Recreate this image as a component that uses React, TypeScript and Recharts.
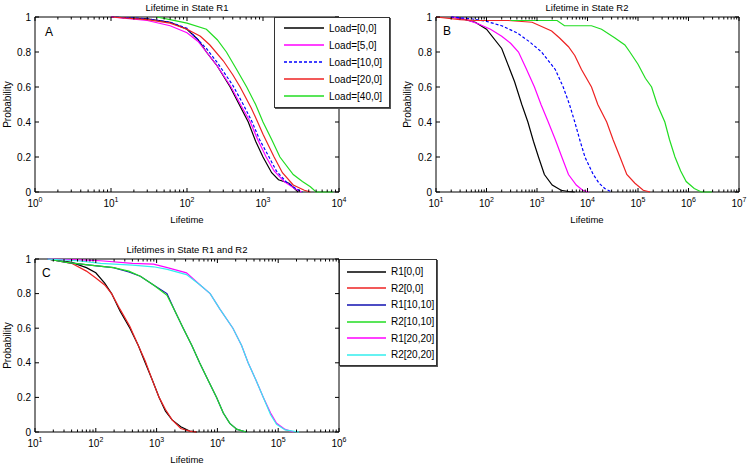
import React from 'react';
import { LineChart, Line, XAxis, YAxis, ReferenceArea } from 'recharts';

type Pt = [number, number];

// [lifetime, probability]

// Panel A – lifetime in state R1
const a00: Pt[] = [[10, 1], [30, 0.99], [60, 0.97], [100, 0.93], [140, 0.87], [180, 0.8], [250, 0.72], [370, 0.6], [500, 0.49], [640, 0.4], [800, 0.29], [1000, 0.2], [1300, 0.11], [1600, 0.07], [2200, 0.05], [2900, 0]];
const a50: Pt[] = [[10, 1], [30, 0.98], [60, 0.95], [100, 0.91], [140, 0.86], [180, 0.8], [250, 0.72], [380, 0.6], [520, 0.49], [680, 0.4], [850, 0.3], [1100, 0.2], [1400, 0.12], [1900, 0.06], [2600, 0.02], [3200, 0]];
const a100: Pt[] = [[10, 1], [30, 0.99], [60, 0.97], [100, 0.935], [180, 0.82], [250, 0.74], [400, 0.61], [550, 0.5], [720, 0.4], [900, 0.3], [1200, 0.2], [1500, 0.12], [2000, 0.06], [2700, 0.02], [3300, 0]];
const a200: Pt[] = [[10, 1], [30, 0.985], [60, 0.965], [100, 0.93], [150, 0.89], [200, 0.84], [300, 0.75], [400, 0.67], [500, 0.6], [700, 0.48], [850, 0.4], [1000, 0.33], [1400, 0.2], [1800, 0.11], [2500, 0.04], [3500, 0.01], [4200, 0]];
const a400: Pt[] = [[40, 1], [60, 0.985], [100, 0.965], [180, 0.93], [250, 0.87], [330, 0.8], [450, 0.7], [610, 0.6], [800, 0.5], [1000, 0.4], [1300, 0.3], [1670, 0.2], [2500, 0.1], [3300, 0.06], [4200, 0.03], [5000, 0], [8400, 0]];

// Panel B – lifetime in state R2
const b00: Pt[] = [[20, 1], [32, 0.99], [60, 0.97], [100, 0.93], [200, 0.82], [360, 0.63], [500, 0.5], [660, 0.4], [850, 0.29], [1070, 0.2], [1400, 0.1], [2000, 0.04], [3000, 0.01], [4200, 0.003], [5600, 0]];
const b50: Pt[] = [[20, 1], [40, 0.985], [70, 0.96], [120, 0.93], [200, 0.89], [300, 0.85], [430, 0.8], [600, 0.71], [890, 0.6], [1200, 0.5], [1670, 0.4], [2300, 0.3], [3100, 0.2], [4200, 0.1], [6000, 0.04], [8000, 0.01], [10500, 0]];
const b100: Pt[] = [[20, 1], [50, 0.99], [100, 0.975], [200, 0.95], [400, 0.91], [700, 0.86], [1230, 0.8], [2300, 0.7], [3300, 0.6], [4400, 0.5], [5600, 0.4], [7000, 0.3], [8900, 0.2], [13000, 0.1], [17000, 0.05], [22000, 0.02], [30000, 0]];
const b200: Pt[] = [[10, 1], [30, 0.985], [60, 0.98], [270, 0.98], [800, 0.97], [1950, 0.92], [2800, 0.88], [4200, 0.83], [5600, 0.78], [7600, 0.7], [12000, 0.6], [16000, 0.5], [24000, 0.4], [32000, 0.3], [44000, 0.2], [60000, 0.1], [87000, 0.05], [127000, 0.01], [174000, 0]];
const b400: Pt[] = [[300, 0.98], [2500, 0.98], [3500, 0.95], [12000, 0.95], [19000, 0.93], [35000, 0.88], [55000, 0.84], [69000, 0.8], [100000, 0.73], [140000, 0.65], [186000, 0.6], [240000, 0.5], [340000, 0.4], [420000, 0.3], [540000, 0.2], [700000, 0.12], [900000, 0.06], [1300000, 0.02], [1800000, 0], [2900000, 0]];

// Panel C – lifetimes in state R1 and R2
const c1_00: Pt[] = [[16, 1], [40, 0.98], [70, 0.95], [100, 0.92], [140, 0.86], [182, 0.8], [250, 0.7], [364, 0.6], [500, 0.5], [650, 0.4], [850, 0.3], [1100, 0.2], [1400, 0.12], [1800, 0.07], [2500, 0.03], [3500, 0.005], [4600, 0]];
const c2_00: Pt[] = [[16, 1], [40, 0.975], [70, 0.93], [100, 0.89], [140, 0.85], [182, 0.8], [250, 0.71], [364, 0.61], [500, 0.5], [650, 0.41], [850, 0.3], [1100, 0.2], [1400, 0.13], [1800, 0.07], [2500, 0.02], [3500, 0.005], [4500, 0]];
const c1_10: Pt[] = [[16, 1], [33, 0.98], [80, 0.965], [195, 0.95], [350, 0.925], [540, 0.9], [890, 0.85], [1480, 0.8], [2000, 0.7], [2740, 0.6], [3800, 0.5], [5100, 0.4], [7000, 0.3], [9700, 0.2], [12500, 0.11], [16000, 0.05], [21000, 0.015], [30000, 0]];
const c2_10: Pt[] = [[16, 1], [33, 0.98], [80, 0.965], [195, 0.95], [350, 0.93], [540, 0.9], [890, 0.85], [1480, 0.79], [2000, 0.7], [2740, 0.6], [3800, 0.5], [5100, 0.4], [7000, 0.3], [9700, 0.2], [12500, 0.11], [16000, 0.05], [21000, 0.015], [30000, 0]];
const c1_20: Pt[] = [[16, 1], [50, 0.995], [120, 0.99], [400, 0.975], [890, 0.97], [1500, 0.95], [3100, 0.92], [5200, 0.85], [7600, 0.8], [11000, 0.71], [18000, 0.6], [25000, 0.5], [32000, 0.4], [43000, 0.3], [57000, 0.2], [75000, 0.11], [94000, 0.05], [130000, 0.015], [178000, 0]];
const c2_20: Pt[] = [[16, 1], [50, 0.99], [120, 0.975], [400, 0.965], [890, 0.955], [1500, 0.94], [3100, 0.91], [5200, 0.85], [7600, 0.8], [11000, 0.71], [18000, 0.6], [25000, 0.5], [32000, 0.4], [43000, 0.3], [57000, 0.2], [75000, 0.1], [94000, 0.045], [130000, 0.012], [220000, 0]];

const legendA = ['Load=[0,0]', 'Load=[5,0]', 'Load=[10,0]', 'Load=[20,0]', 'Load=[40,0]'];
const legendC = ['R1[0,0]', 'R2[0,0]', 'R1[10,10]', 'R2[10,10]', 'R1[20,20]', 'R2[20,20]'];

const decadesA = [0, 1, 2, 3, 4];
const decadesB = [1, 2, 3, 4, 5, 6, 7];
const decadesC = [1, 2, 3, 4, 5, 6];
const yTicks = [0, 0.2, 0.4, 0.6, 0.8, 1];
const yLabels = ['0', '0.2', '0.4', '0.6', '0.8', '1'];

const FONT = '"Liberation Sans", Arial, Helvetica, sans-serif';
const RED = '#ee2222';
const GREEN = '#22dd22';

interface Series {
  name: string;
  color: string;
  dash?: string;
  data: Pt[];
}

const seriesA: Series[] = [
  { name: legendA[0], color: '#000000', data: a00 },
  { name: legendA[1], color: '#ff00ff', data: a50 },
  { name: legendA[2], color: '#0000ff', dash: '3 2', data: a100 },
  { name: legendA[3], color: RED, data: a200 },
  { name: legendA[4], color: GREEN, data: a400 },
];
const seriesB: Series[] = [
  { name: legendA[0], color: '#000000', data: b00 },
  { name: legendA[1], color: '#ff00ff', data: b50 },
  { name: legendA[2], color: '#0000ff', dash: '3 2', data: b100 },
  { name: legendA[3], color: RED, data: b200 },
  { name: legendA[4], color: GREEN, data: b400 },
];
const seriesC: Series[] = [
  { name: legendC[0], color: '#000000', data: c1_00 },
  { name: legendC[1], color: RED, data: c2_00 },
  { name: legendC[2], color: '#1010b0', data: c1_10 },
  { name: legendC[3], color: GREEN, data: c2_10 },
  { name: legendC[4], color: '#ff00ff', data: c1_20 },
  { name: legendC[5], color: '#33eeee', data: c2_20 },
];

const toRows = (pts: Pt[]) => pts.map(([x, y]) => ({ x, y }));

interface PanelProps {
  left: number;
  top: number;
  width: number;
  height: number;
  margin: { top: number; right: number; bottom: number; left: number };
  decades: number[];
  series: Series[];
}

// axes are 1px thick so recharts still renders them; margins are one less than the plot offset
const Panel: React.FC<PanelProps> = ({ left, top, width, height, margin, decades, series }) => {
  const plotW = width - margin.left - margin.right - 1;
  const plotH = height - margin.top - margin.bottom - 1;
  const majors = decades.map((d) => Math.pow(10, d));
  const ticks: number[] = [];
  decades.forEach((d, i) => {
    ticks.push(majors[i]);
    if (i < decades.length - 1) {
      for (let m = 2; m <= 9; m++) ticks.push(m * majors[i]);
    }
  });
  const lo = majors[0];
  const hi = majors[majors.length - 1];

  const xTick = (p: any) => {
    const v = p.payload.value;
    const idx = majors.indexOf(v);
    const len = idx >= 0 ? 4 : 2.5;
    return (
      <g>
        <line x1={p.x} x2={p.x} y1={p.y} y2={p.y - len} stroke="#000" strokeWidth={1} />
        <line x1={p.x} x2={p.x} y1={p.y - plotH} y2={p.y - plotH + len} stroke="#000" strokeWidth={1} />
        {idx >= 0 && (
          <text x={p.x} y={p.y + 14.5} textAnchor="middle" fontSize={10} fontFamily={FONT} fill="#000">
            10<tspan dy={-5} fontSize={7}>{decades[idx]}</tspan>
          </text>
        )}
      </g>
    );
  };

  const yTick = (p: any) => {
    const i = yTicks.indexOf(p.payload.value);
    return (
      <g>
        <line x1={p.x} x2={p.x + 4} y1={p.y} y2={p.y} stroke="#000" strokeWidth={1} />
        <line x1={p.x + plotW} x2={p.x + plotW - 4} y1={p.y} y2={p.y} stroke="#000" strokeWidth={1} />
        <text x={p.x - 4} y={p.y + 3.5} textAnchor="end" fontSize={10} fontFamily={FONT} fill="#000">
          {yLabels[i]}
        </text>
      </g>
    );
  };

  return (
    <div style={{ position: 'absolute', left, top }}>
      <LineChart width={width} height={height} margin={margin}>
        <XAxis
          xAxisId={0}
          dataKey="x"
          type="number"
          scale="log"
          domain={[lo, hi]}
          allowDataOverflow
          ticks={ticks}
          interval={0}
          tickSize={0}
          tickMargin={0}
          height={1}
          axisLine={false}
          tickLine={false}
          tick={xTick}
        />
        <YAxis
          yAxisId={0}
          type="number"
          domain={[0, 1]}
          ticks={yTicks}
          interval={0}
          tickSize={0}
          tickMargin={0}
          width={1}
          axisLine={false}
          tickLine={false}
          tick={yTick}
        />
        <ReferenceArea x1={lo} x2={hi} y1={0} y2={1} fill="none" fillOpacity={0} stroke="#000" strokeWidth={1} />
        {series.map((s) => (
          <Line
            key={s.name + s.color}
            data={toRows(s.data)}
            dataKey="y"
            type="linear"
            stroke={s.color}
            strokeWidth={1.2}
            strokeDasharray={s.dash}
            dot={false}
            activeDot={false}
            isAnimationActive={false}
          />
        ))}
      </LineChart>
    </div>
  );
};

interface LegendProps {
  left: number;
  top: number;
  width: number;
  rowH: number;
  padTop: number;
  sampleX: number;
  sampleW: number;
  series: Series[];
}

const LegendBox: React.FC<LegendProps> = ({ left, top, width, rowH, padTop, sampleX, sampleW, series }) => (
  <div
    style={{
      position: 'absolute',
      left,
      top,
      width,
      boxSizing: 'border-box',
      background: '#fff',
      border: '1px solid #333',
      boxShadow: '1px 1px 0 #555',
      paddingTop: padTop,
      paddingBottom: 2,
      fontFamily: FONT,
      fontSize: 10,
      color: '#000',
    }}
  >
    {series.map((s) => (
      <div key={s.name} style={{ display: 'flex', alignItems: 'center', height: rowH }}>
        <svg width={sampleX + sampleW + 5} height={4} style={{ flex: 'none' }}>
          <line x1={sampleX} x2={sampleX + sampleW} y1={2} y2={2} stroke={s.color} strokeWidth={1.4} strokeDasharray={s.dash} />
        </svg>
        <span style={{ whiteSpace: 'nowrap' }}>{s.name}</span>
      </div>
    ))}
  </div>
);

const App: React.FC = () => {
  const txt = { fontFamily: FONT, fill: '#000' };
  return (
    <div style={{ position: 'absolute', left: 0, top: 0, width: 750, height: 467, background: '#fff', overflow: 'hidden' }}>
      <Panel left={0} top={0} width={375} height={230} margin={{ top: 17, right: 36, bottom: 37, left: 34 }} decades={decadesA} series={seriesA} />
      <Panel left={375} top={0} width={375} height={230} margin={{ top: 17, right: 11, bottom: 37, left: 60 }} decades={decadesB} series={seriesB} />
      <Panel left={0} top={230} width={375} height={237} margin={{ top: 29, right: 36, bottom: 34, left: 34 }} decades={decadesC} series={seriesC} />

      <svg width={750} height={467} style={{ position: 'absolute', left: 0, top: 0, pointerEvents: 'none' }}>
        <text x={187} y={11} textAnchor="middle" fontSize={9.5} {...txt}>Lifetime in State R1</text>
        <text x={587} y={11} textAnchor="middle" fontSize={9.5} {...txt}>Lifetime in State R2</text>
        <text x={187} y={253} textAnchor="middle" fontSize={9.5} {...txt}>Lifetimes in State R1 and R2</text>

        <text x={187} y={223} textAnchor="middle" fontSize={9.5} {...txt}>Lifetime</text>
        <text x={587} y={223} textAnchor="middle" fontSize={9.5} {...txt}>Lifetime</text>
        <text x={187} y={463} textAnchor="middle" fontSize={9.5} {...txt}>Lifetime</text>

        <text transform="translate(11,104.5) rotate(-90)" textAnchor="middle" fontSize={10} {...txt}>Probability</text>
        <text transform="translate(411,104.5) rotate(-90)" textAnchor="middle" fontSize={10} {...txt}>Probability</text>
        <text transform="translate(11,345.5) rotate(-90)" textAnchor="middle" fontSize={10} {...txt}>Probability</text>

        <text x={45} y={36} fontSize={12} {...txt}>A</text>
        <text x={443} y={35} fontSize={12} {...txt}>B</text>
        <text x={42} y={277} fontSize={12} {...txt}>C</text>
      </svg>

      <LegendBox left={274} top={17} width={116} rowH={17} padTop={1.5} sampleX={9} sampleW={40} series={seriesA} />
      <LegendBox left={339} top={259} width={98} rowH={16.6} padTop={3.5} sampleX={7} sampleW={39} series={seriesC} />
    </div>
  );
};

export default App;
